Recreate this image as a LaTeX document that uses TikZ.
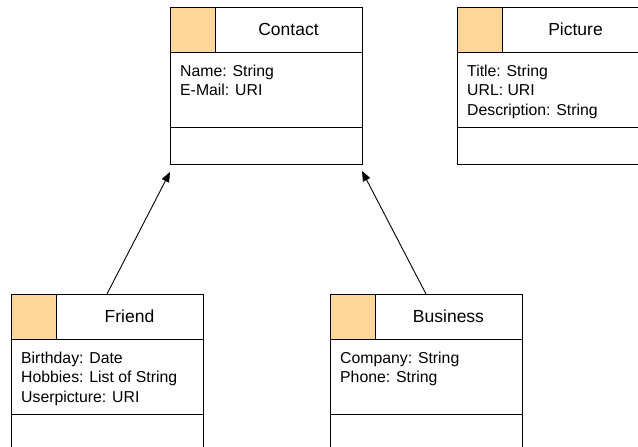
\documentclass[tikz,border=0pt]{standalone}
\usepackage{fontspec}
\setmainfont{Liberation Sans}
\usetikzlibrary{arrows.meta}
\definecolor{iconfill}{RGB}{255,214,153}
\tikzset{
  cell/.style={draw=black, line width=1pt, inner sep=0pt, outer sep=0pt, anchor=north west},
  icon/.style={cell, fill=iconfill, minimum width=45pt, minimum height=45pt},
  titlecell/.style={cell, minimum width=147pt, minimum height=45pt,
    font=\fontsize{17.5}{21}\selectfont, text height=12.5pt, text depth=0pt},
  attrcell/.style={cell, minimum width=192pt, minimum height=75pt},
  opcell/.style={cell, minimum width=192pt, minimum height=37pt},
  attrtext/.style={anchor=north west, inner sep=0pt, align=left,
    font=\fontsize{15.8}{19.2}\selectfont},
  frame/.style={inner sep=0pt, outer sep=0pt, anchor=north west,
    minimum width=192pt, minimum height=157pt},
  inherit/.style={draw=black, line width=0.9pt, -{Triangle[length=10pt,width=8pt]}},
}
% one UML class: name, left, top, title, attribute lines
\newcommand\umlclass[5]{%
  \node[frame] (#1) at (#2,#3) {};
  \node[icon] (#1-icon) at (#1.north west) {};
  \node[titlecell] (#1-title) at (#1-icon.north east) {#4};
  \node[attrcell] (#1-attrs) at (#1-icon.south west) {};
  \node[opcell] (#1-ops) at (#1-attrs.south west) {};
  \node[attrtext] (#1-text) at ([xshift=10pt,yshift=-13pt]#1-attrs.north west) {#5};
}
\begin{document}
\begin{tikzpicture}[x=1pt, y=-1pt]
  \useasboundingbox (0,0) rectangle (638,447);
  \clip (0,0) rectangle (638,447);
  \fill[white] (0,0) rectangle (638,447);

  \umlclass{contact}{170}{7}{Contact}{Name: String\\E-Mail: URI}
  \umlclass{picture}{457}{7}{Picture}{Title: String\\URL: URI\\Description: String}
  \umlclass{friend}{11}{294}{Friend}{Birthday: Date\\Hobbies: List of String\\Userpicture: URI}
  \umlclass{business}{330}{294}{Business}{Company: String\\Phone: String}

  \draw[inherit] (friend.north) -- ([yshift=-8pt]contact.south west);
  \draw[inherit] (business.north) -- ([yshift=-7pt]contact.south east);
\end{tikzpicture}
\end{document}
